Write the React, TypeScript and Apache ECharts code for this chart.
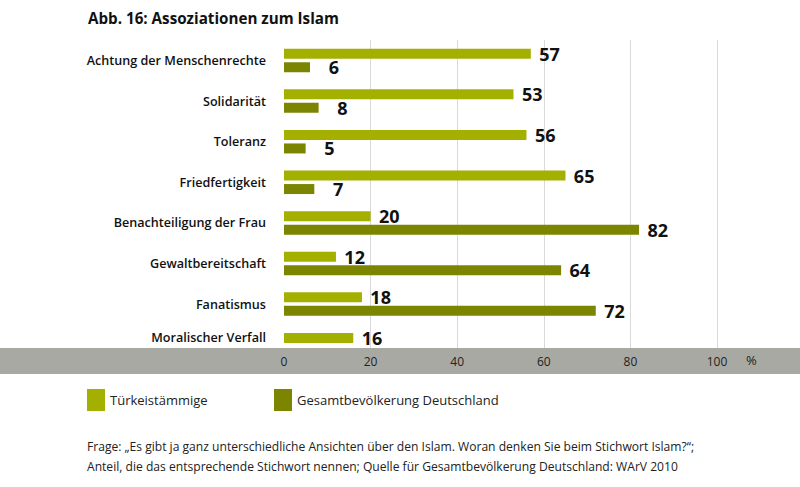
import React, { useEffect, useRef } from "react";
import * as echarts from "echarts";

// Assoziationen zum Islam, Anteil in Prozent
const categories = [
  "Achtung der Menschenrechte",
  "Solidarität",
  "Toleranz",
  "Friedfertigkeit",
  "Benachteiligung der Frau",
  "Gewaltbereitschaft",
  "Fanatismus",
  "Moralischer Verfall",
];
const tuerkeistaemmige = [57, 53, 56, 65, 20, 12, 18, 16];
const gesamtbevoelkerung: (number | null)[] = [6, 8, 5, 7, 82, 64, 72, null];
const xTicks = [0, 20, 40, 60, 80, 100];

const FONT = "'Open Sans', 'DejaVu Sans', sans-serif";
const LIGHT = "#a4b000";
const DARK = "#7b8500";

export default function App() {
  const ref = useRef<HTMLDivElement>(null);

  useEffect(() => {
    if (!ref.current) return;
    const chart = echarts.init(ref.current, null, { renderer: "svg" });

    const valueLabel = {
      show: true,
      position: "right" as const,
      distance: 6,
      formatter: "{v|{c}}",
      rich: {
        v: {
          width: 23,
          align: "right" as const,
          fontSize: 18,
          fontWeight: "bold" as const,
          color: "#111",
          fontFamily: FONT,
        },
      },
    };

    const catLabelStyle = {
      fontSize: 12.6,
      fontWeight: 600 as const,
      color: "#111",
      fontFamily: FONT,
    };

    chart.setOption({
      animation: false,
      backgroundColor: "#ffffff",
      textStyle: { fontFamily: FONT },
      title: {
        text: "Abb. 16: Assoziationen zum Islam",
        left: 83,
        top: 5,
        textStyle: { fontSize: 15.2, fontWeight: "bold", color: "#111", fontFamily: FONT },
      },
      legend: [
        {
          data: ["Türkeistämmige"],
          left: 82,
          top: 384,
          icon: "rect",
          itemWidth: 18,
          itemHeight: 22,
          textStyle: { fontSize: 13, color: "#222", fontFamily: FONT },
        },
        {
          data: ["Gesamtbevölkerung Deutschland"],
          left: 269,
          top: 384,
          icon: "rect",
          itemWidth: 18,
          itemHeight: 22,
          textStyle: { fontSize: 13, color: "#222", fontFamily: FONT },
        },
      ],
      grid: { left: 284, top: 40.2, width: 433, height: 324.8, containLabel: false },
      xAxis: [
        {
          type: "value",
          min: 0,
          max: 100,
          interval: 20,
          axisLine: { show: false },
          axisTick: { show: false },
          axisLabel: { show: false },
          splitLine: {
            show: true,
            lineStyle: { color: "#d9d9d9", width: 1 },
            showMinLine: false,
          },
        },
        {
          type: "value",
          min: 0,
          max: 100,
          interval: 20,
          position: "bottom",
          z: 10,
          axisLine: { show: false },
          axisTick: { show: false },
          splitLine: { show: false },
          axisLabel: {
            show: true,
            margin: -4,
            verticalAlign: "middle",
            fontSize: 12,
            color: "#222",
            fontFamily: FONT,
            formatter: (v: number) => (xTicks.includes(v) ? String(v) : ""),
          },
        },
      ],
      yAxis: {
        type: "category",
        inverse: true,
        z: 6,
        data: categories,
        axisLine: { show: false },
        axisTick: { show: false },
        splitLine: { show: false },
        axisLabel: {
          margin: 18,
          ...catLabelStyle,
          // the last row has only one bar, so its label sits beside that bar
          formatter: (v: string, i: number) =>
            i === categories.length - 1 ? `{up|${v}}` : `{n|${v}}`,
          rich: {
            n: { ...catLabelStyle },
            up: { ...catLabelStyle, padding: [0, 0, 14, 0] },
          },
        },
      },
      series: [
        {
          name: "Türkeistämmige",
          type: "bar",
          xAxisIndex: 0,
          data: tuerkeistaemmige,
          barWidth: 10,
          barGap: "35%",
          itemStyle: { color: LIGHT },
          label: valueLabel,
          z: 2,
        },
        {
          name: "Gesamtbevölkerung Deutschland",
          type: "bar",
          xAxisIndex: 0,
          data: gesamtbevoelkerung.map((v) => (v === null ? "-" : v)),
          barWidth: 10,
          itemStyle: { color: DARK },
          label: valueLabel,
          z: 2,
        },
      ],
      graphic: [
        {
          type: "rect",
          left: 0,
          top: 348,
          z: 5,
          shape: { width: 800, height: 26 },
          style: { fill: "#a9a9a4" },
        },
        {
          type: "text",
          left: 746,
          top: 353,
          z: 11,
          style: { text: "%", fontSize: 13, fill: "#222", fontFamily: FONT },
        },
        {
          type: "text",
          left: 87,
          top: 436,
          style: {
            text:
              "Frage: „Es gibt ja ganz unterschiedliche Ansichten über den Islam. Woran denken Sie beim Stichwort Islam?“;\nAnteil, die das entsprechende Stichwort nennen; Quelle für Gesamtbevölkerung Deutschland: WArV 2010",
            fontSize: 12.1,
            lineHeight: 20,
            fill: "#222",
            fontFamily: FONT,
          },
        },
      ],
    });

    return () => chart.dispose();
  }, []);

  return (
    <div
      ref={ref}
      style={{ position: "fixed", left: 0, top: 0, width: 800, height: 487 }}
    />
  );
}
